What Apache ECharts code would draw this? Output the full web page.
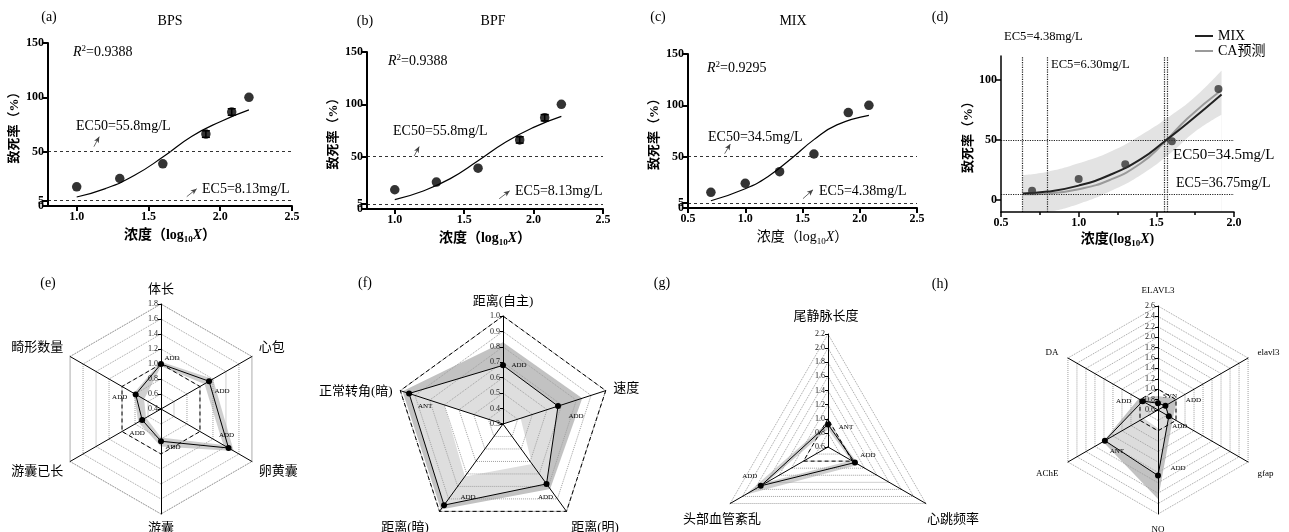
<!DOCTYPE html>
<html>
<head>
<meta charset="utf-8">
<script src="https://cdn.jsdelivr.net/npm/echarts@6.0.0/dist/echarts.min.js"></script>
<style>
html,body{margin:0;padding:0;background:#fff;}
#main{width:1289px;height:532px;}
</style>
</head>
<body>
<div id="main"></div>
<script>
// ================= DATA =================
// (a) BPS
const a_x = [1.0, 1.3, 1.6, 1.9, 2.08, 2.2];
const a_y = [17.6, 25.3, 38.8, 66.2, 86.5, 100];
const a_err = [0, 0, 0, 3, 3, 0];
const a_fitX = [1.0, 1.2, 1.4, 1.6, 1.8, 2.0, 2.2];
const a_fitY = [8.3, 16, 28, 45, 64, 77.6, 88.4];
const a_xTicks = [1.0, 1.5, 2.0, 2.5];
const a_yTicks = [0, 5, 50, 100, 150];
const a_ecLevels = [50, 5];
// (b) BPF
const b_x = [1.0, 1.3, 1.6, 1.9, 2.08, 2.2];
const b_y = [18.4, 25.7, 39, 66, 87.2, 100];
const b_err = [0, 0, 0, 3, 3, 0];
const b_fitX = [1.0, 1.2, 1.4, 1.6, 1.8, 2.0, 2.2];
const b_fitY = [8.9, 17, 29, 46, 64, 78, 88.5];
const b_xTicks = [1.0, 1.5, 2.0, 2.5];
const b_yTicks = [0, 5, 50, 100, 150];
const b_ecLevels = [50, 5];
// (c) MIX
const c_x = [0.7, 1.0, 1.3, 1.6, 1.9, 2.08];
const c_y = [15.3, 24, 35.4, 52.6, 92.9, 100];
const c_err = [0, 0, 0, 0, 0, 0];
const c_fitX = [0.7, 1.0, 1.2, 1.4, 1.6, 1.8, 2.08];
const c_fitY = [7.1, 18.8, 30.8, 48, 66.6, 81, 90.3];
const c_xTicks = [0.5, 1.0, 1.5, 2.0, 2.5];
const c_yTicks = [0, 5, 50, 100, 150];
const c_ecLevels = [50, 5];
// (d) MIX vs CA prediction
const d_x = [0.7, 1.0, 1.3, 1.6, 1.9];
const d_y = [7.8, 17.5, 29.7, 48.9, 92.5];
const d_fitX = [0.64, 0.8, 1.0, 1.2, 1.4, 1.55, 1.7, 1.92];
const d_mixY = [5.5, 7, 12, 20.8, 34, 48.6, 64, 88];
const d_caY = [4.7, 5.5, 9, 16.7, 30.6, 47.8, 68, 91.7];
const d_bandX = [0.64, 0.8, 1.0, 1.2, 1.4, 1.6, 1.75, 1.92];
const d_bandUpper = [20.8, 23.6, 30.6, 40, 54, 71, 86, 108];
const d_bandLower = [-12, -10, -3.3, 7, 20.8, 40, 57, 71];
const d_ecX = [0.64, 0.80, 1.55, 1.57];
const d_ecY = [50, 5];
const d_xTicks = [0.5, 1.0, 1.5, 2.0];
const d_yTicks = [0, 50, 100];
const d_legend = ['MIX', 'CA预测'];

// (e)
const e_names = ['体长', '心包', '卵黄囊', '游囊', '游囊已长', '畸形数量'];
const e_vals  = [1.0, 1.14, 1.44, 0.83, 0.69, 0.79];
const e_upper = [1.03, 1.2, 1.52, 0.9, 0.75, 0.82];
const e_lower = [0.97, 1.07, 1.36, 0.78, 0.63, 0.66];
const e_ref   = [1, 1, 1, 1, 1, 1];
const e_tags  = ['ADD', 'ADD', 'ADD', 'ADD', 'ADD', 'ADD'];
const e_range = [0.4, 1.8];
// (f)
const f_names = ['距离(自主)', '速度', '距离(明)', '距离(暗)', '正常转角(暗)'];
const f_vals  = [0.68, 0.675, 0.78, 0.95, 0.94];
const f_upper = [0.83, 0.84, 0.82, 0.985, 0.985];
const f_lower = [0.3, 0.42, 0.62, 0.72, 0.7];
const f_ref   = [1, 1, 1, 1, 1];
const f_tags  = ['ADD', 'ADD', 'ADD', 'ADD', 'ANT'];
const f_range = [0.3, 1.0];
// (g)
const g_names = ['尾静脉长度', '心跳频率', '头部血管紊乱'];
const g_vals  = [0.92, 1.04, 1.7];
const g_upper = [0.95, 1.1, 1.95];
const g_lower = [0.85, 0.98, 1.6];
const g_ref   = [1, 1, 1];
const g_tags  = ['ANT', 'ADD', 'ADD'];
const g_range = [0.6, 2.2];
// (h)
const h_names = ['ELAVL3', 'elavl3', 'gfap', 'NO', 'AChE', 'DA'];
const h_vals  = [0.73, 0.765, 0.84, 1.86, 1.78, 0.94];
const h_upper = [0.87, 1.02, 0.93, 2.31, 1.82, 1.03];
const h_lower = [0.62, 0.6, 0.6, 0.95, 0.92, 0.6];
const h_ref   = [1, 1, 1, 1, 1, 1];
const h_tags  = ['SYN', 'ADD', 'ADD', 'ADD', 'ANT', 'ADD'];
const h_range = [0.6, 2.6];

// ================= BUILD =================
const SERIF = "'Liberation Serif','Noto Sans CJK SC',serif";
const grid = [], xAxis = [], yAxis = [], series = [], radar = [], graphic = [];
const extraY = [];
const pair = (xs, ys) => xs.map((x, i) => [x, ys[i]]);
const fmt1 = v => Number(v).toFixed(1);

function xNameRich(bold) {
  const w = bold ? 'bold' : 'normal';
  return {
    n: {fontFamily: SERIF, fontSize: 14, fontWeight: w, color: '#000', lineHeight: 18},
    b: {fontFamily: SERIF, fontSize: 14, fontWeight: w, color: '#000', lineHeight: 18},
    s: {fontFamily: SERIF, fontSize: 9, fontWeight: w, color: '#000', lineHeight: 10, verticalAlign: 'bottom'},
    i: {fontFamily: SERIF, fontSize: 14, fontStyle: 'italic', fontWeight: w, color: '#000', lineHeight: 18}
  };
}
const yLabelStyle = {color: '#000', fontFamily: SERIF, fontWeight: 'bold', fontSize: 12, margin: 4,
  formatter: v => String(v), showMinLabel: true, showMaxLabel: true, hideOverlap: false};

function topPanel(i, P) {
  grid.push(P.grid);
  xAxis.push({
    type: 'value', gridIndex: i, min: P.xRange[0], max: P.xRange[1], interval: P.xInterval, z: 10,
    axisLine: {show: true, onZero: false, lineStyle: {color: '#000', width: P.axisW}},
    axisTick: {show: true, length: 5, lineStyle: {color: '#000', width: P.axisW}, customValues: P.xTicks},
    minorTick: P.minorX ? {show: true, splitNumber: 2, length: 3, lineStyle: {color: '#000', width: 1.5}} : {show: false},
    axisLabel: {color: '#000', fontFamily: SERIF, fontWeight: 'bold', fontSize: 12, margin: 5, formatter: fmt1,
      customValues: P.xTicks, showMinLabel: true, showMaxLabel: true, hideOverlap: false},
    splitLine: {show: false},
    name: P.xName, nameLocation: 'middle', nameGap: P.xNameGap,
    nameTextStyle: {fontFamily: SERIF, fontSize: 14, fontWeight: P.boldName ? 'bold' : 'normal', color: '#000', rich: xNameRich(P.boldName)}
  });
  // labels that sit within a few px of each other (0 and 5) are split over two axes so both stay visible
  const lbl = P.yTicks.filter(v => v !== 0);
  const needSplit = lbl.length !== P.yTicks.length && lbl.indexOf(5) >= 0;
  yAxis.push({
    type: 'value', gridIndex: i, min: P.yRange[0], max: P.yRange[1], z: 10,
    axisLine: {show: true, onZero: false, lineStyle: {color: '#000', width: P.axisW}},
    axisTick: {show: true, length: 5, lineStyle: {color: '#000', width: P.axisW}, customValues: P.yTicks},
    axisLabel: Object.assign({}, yLabelStyle, {customValues: needSplit ? lbl : P.yTicks}),
    splitLine: {show: false},
    name: '致死率（%）', nameLocation: 'middle', nameGap: P.yNameGap, nameRotate: 90,
    nameTextStyle: {fontFamily: SERIF, fontSize: 13, fontWeight: 'bold', color: '#000'}
  });
  if (needSplit) {
    extraY.push({
      type: 'value', gridIndex: i, min: P.yRange[0], max: P.yRange[1], position: 'left', z: 9,
      axisLine: {show: false, onZero: false}, axisTick: {show: false}, splitLine: {show: false},
      axisLabel: Object.assign({}, yLabelStyle, {customValues: [0]})
    });
  }
}

function curvePanel(i, P) {
  const mk = P.ecLevels.map(v => ({yAxis: v}));
  P.arrows.forEach(a => mk.push([
    {coord: [a[0], a[1]], symbol: 'none', lineStyle: {type: 'solid', width: 0.8, color: '#444'}},
    {coord: [a[2], a[3]], symbol: 'arrow', symbolSize: [4, 6]}
  ]));
  series.push({
    type: 'line', xAxisIndex: i, yAxisIndex: i, data: pair(P.fx, P.fy), smooth: true, symbol: 'none',
    lineStyle: {color: '#000', width: 1.2}, z: 3, silent: true,
    markLine: {silent: true, symbol: ['none', 'none'], label: {show: false},
      lineStyle: {color: '#333', width: 1, type: [3, 3]}, data: mk}
  });
  series.push({
    type: 'scatter', xAxisIndex: i, yAxisIndex: i, data: pair(P.x, P.y), symbolSize: 9.5,
    itemStyle: {color: '#000'}, z: 4, silent: true
  });
  series.push({
    type: 'custom', xAxisIndex: i, yAxisIndex: i, z: 5, silent: true,
    data: P.x.map((x, k) => [x, P.y[k], P.err[k]]),
    encode: {x: 0, y: 1},
    renderItem: (params, api) => {
      const x = api.value(0), y = api.value(1), e = api.value(2);
      if (!e) return null;
      const t = api.coord([x, y + e]), b = api.coord([x, y - e]);
      const st = {stroke: '#000', lineWidth: 1.5};
      return {type: 'group', children: [
        {type: 'line', shape: {x1: t[0], y1: t[1], x2: b[0], y2: b[1]}, style: st},
        {type: 'line', shape: {x1: t[0] - 4, y1: t[1], x2: t[0] + 4, y2: t[1]}, style: st},
        {type: 'line', shape: {x1: b[0] - 4, y1: b[1], x2: b[0] + 4, y2: b[1]}, style: st}
      ]};
    }
  });
}

// Panels a-c
const logName = '{n|浓度（}{b|log}{s|10}{i|X}{n|）}';
topPanel(0, {grid: {left: 48, top: 43, width: 244, height: 163}, xRange: [0.8, 2.5], xTicks: a_xTicks,
  yRange: [0, 150], yTicks: a_yTicks, axisW: 2, xName: logName, boldName: true, xNameGap: 20, yNameGap: 27});
curvePanel(0, {x: a_x, y: a_y, err: a_err, fx: a_fitX, fy: a_fitY, ecLevels: a_ecLevels,
  arrows: [[1.12, 54.6, 1.157, 63.8], [1.767, 8.6, 1.836, 15.9]]});

topPanel(1, {grid: {left: 367, top: 52, width: 236, height: 157}, xRange: [0.8, 2.5], xTicks: b_xTicks,
  yRange: [0, 150], yTicks: b_yTicks, axisW: 2, xName: logName, boldName: true, xNameGap: 20, yNameGap: 27});
curvePanel(1, {x: b_x, y: b_y, err: b_err, fx: b_fitX, fy: b_fitY, ecLevels: b_ecLevels,
  arrows: [[1.14, 50.7, 1.176, 59.6], [1.752, 9.8, 1.828, 17.4]]});

topPanel(2, {grid: {left: 688, top: 54, width: 229, height: 154}, xRange: [0.5, 2.5], xTicks: c_xTicks,
  yRange: [0, 150], yTicks: c_yTicks, axisW: 2, xName: logName, boldName: false, xNameGap: 20, yNameGap: 27});
curvePanel(2, {x: c_x, y: c_y, err: c_err, fx: c_fitX, fy: c_fitY, ecLevels: c_ecLevels,
  arrows: [[0.82, 52.9, 0.87, 62.3], [1.504, 9.1, 1.592, 17.8]]});

// Panel d
topPanel(3, {grid: {left: 1001, top: 56, width: 233, height: 156}, xRange: [0.5, 2.0], xInterval: 0.5, minorX: true,
  yRange: [-10, 120], yTicks: d_yTicks, axisW: 1.5, xName: '{n|浓度(}{b|log}{s|10}{i|X}{n|)}', boldName: true, xNameGap: 18, yNameGap: 24});
// confidence band: upper area grey, lower area white on top of it
series.push({
  type: 'line', xAxisIndex: 3, yAxisIndex: 3, symbol: 'none', silent: true, z: 1, smooth: true,
  lineStyle: {opacity: 0}, areaStyle: {color: '#e3e3e3', opacity: 1, origin: 'start'},
  data: pair(d_bandX, d_bandUpper)
});
series.push({
  type: 'line', xAxisIndex: 3, yAxisIndex: 3, symbol: 'none', silent: true, z: 1.1, smooth: true,
  lineStyle: {opacity: 0}, areaStyle: {color: '#ffffff', opacity: 1, origin: 'start'},
  data: pair(d_bandX, d_bandLower)
});
series.push({
  type: 'line', xAxisIndex: 3, yAxisIndex: 3, symbol: 'none', silent: true, z: 2,
  lineStyle: {opacity: 0}, data: [],
  markLine: {silent: true, symbol: ['none', 'none'], label: {show: false},
    lineStyle: {color: '#222', width: 1.2, type: 'dotted'},
    data: d_ecX.map(v => ({xAxis: v})).concat(d_ecY.map(v => ({yAxis: v})))}
});
series.push({
  name: d_legend[1], type: 'line', xAxisIndex: 3, yAxisIndex: 3, data: pair(d_fitX, d_caY), smooth: true,
  symbol: 'none', showSymbol: false, lineStyle: {color: '#9a9a9a', width: 2}, itemStyle: {color: '#9a9a9a'}, z: 3, silent: true
});
series.push({
  name: d_legend[0], type: 'line', xAxisIndex: 3, yAxisIndex: 3, data: pair(d_fitX, d_mixY), smooth: true,
  symbol: 'none', showSymbol: false, lineStyle: {color: '#222', width: 2}, itemStyle: {color: '#222'}, z: 4, silent: true
});
series.push({
  type: 'scatter', xAxisIndex: 3, yAxisIndex: 3, data: pair(d_x, d_y), symbolSize: 8,
  itemStyle: {color: '#333'}, z: 5, silent: true
});
extraY.forEach(a => yAxis.push(a));

// Radar panels
function radarPanel(k, P) {
  const ccw = arr => [arr[0]].concat(arr.slice(1).reverse());
  const nameRich = {};
  const adj = P.nameAdj || {};
  Object.keys(adj).forEach((nm, j) => {
    nameRich['p' + j] = {fontSize: P.nameSize, fontFamily: SERIF, color: '#000', padding: adj[nm]};
  });
  radar.push({
    center: P.center, radius: P.radius, startAngle: 90, shape: 'polygon', splitNumber: P.split, z: 3,
    indicator: ccw(P.names).map((nm, j) => {
      const o = {name: nm, min: P.range[0], max: P.range[1]};
      if (j === 0) { o.axisLabel = {show: true}; o.axisTick = {show: true}; }
      return o;
    }),
    axisName: {show: P.showNames !== false, color: '#000', fontSize: P.nameSize, fontFamily: SERIF, rich: nameRich,
      formatter: (v) => { const j = Object.keys(adj).indexOf(v); return j < 0 ? v : '{p' + j + '|' + v + '}'; }},
    nameGap: P.nameGap,
    splitLine: {show: true, lineStyle: {color: '#a0a0a0', type: 'dotted', width: 1}},
    splitArea: {show: false},
    axisLine: {show: true, lineStyle: {color: '#000', width: 1}},
    axisTick: {show: false, length: 3, lineStyle: {color: '#000', width: 1}},
    axisLabel: {show: false, fontSize: 8, fontFamily: SERIF, color: '#222', margin: 3, formatter: fmt1}
  });
  P.fills.forEach((f, m) => series.push({
    type: 'radar', radarIndex: k, z: 1 + m * 0.1, silent: true, symbol: 'none',
    lineStyle: {width: 0, opacity: 0}, areaStyle: {color: f[0], opacity: 1},
    data: [{value: ccw(f[1])}]
  }));
  series.push({
    type: 'radar', radarIndex: k, z: 4, silent: true, symbol: 'none',
    lineStyle: {color: '#000', width: 1, type: [4, 3]}, data: [{value: ccw(P.ref)}]
  });
  const rich = {};
  P.off.forEach((o, j) => {
    const dx = o[0], dy = o[1];
    rich['d' + j] = {fontSize: 7, fontFamily: SERIF, color: '#000',
      padding: [Math.max(0, 2 * dy), Math.max(0, -2 * dx), Math.max(0, -2 * dy), Math.max(0, 2 * dx)]};
  });
  series.push({
    type: 'radar', radarIndex: k, z: 5, silent: true, symbol: 'circle', symbolSize: 6,
    itemStyle: {color: '#000'}, lineStyle: {color: '#000', width: 1},
    label: {show: true, position: 'inside', color: '#000', textBorderWidth: 0,
      formatter: p => { const j = P.vals.indexOf(p.value); return j < 0 ? '' : '{d' + j + '|' + P.tags[j] + '}'; },
      rich: rich},
    data: [{value: ccw(P.vals)}]
  });
}

radarPanel(0, {center: [161, 409], radius: 105, split: 7, range: e_range, names: e_names, vals: e_vals, ref: e_ref, tags: e_tags,
  nameSize: 13, nameGap: 8,
  nameAdj: {'心包': [0, 0, 10, 0], '畸形数量': [0, 0, 10, 0], '卵黄囊': [12, 0, 0, 0], '游囊已长': [12, 0, 0, 0]},
  fills: [['#cfcfcf', e_upper], ['#ffffff', e_lower]],
  off: [[11, -6], [13, 10], [-2, -13], [12, 6], [-5, 13], [-16, 3]]});
radarPanel(1, {center: [503, 424], radius: 108, split: 7, range: f_range, names: f_names, vals: f_vals, ref: f_ref, tags: f_tags,
  nameSize: 13, nameGap: 8,
  nameAdj: {'距离(明)': [20, 0, 0, 0], '距离(暗)': [20, 6, 0, 0], '正常转角(暗)': [6, 0, 0, 0]},
  fills: [['#c2c2c2', f_upper], ['#dedede', f_vals], ['#ffffff', f_lower]],
  off: [[16, 0], [18, 10], [-1, 13], [24, -8], [16, 13]]});
radarPanel(2, {center: [828, 447], radius: 113, split: 8, range: g_range, names: g_names, vals: g_vals, ref: g_ref, tags: g_tags,
  nameSize: 13, nameGap: 10, showNames: false,
  fills: [['#cfcfcf', g_upper], ['#ffffff', g_lower]],
  off: [[18, 3], [13, -7], [-11, -10]]});
radarPanel(3, {center: [1158, 410], radius: 104, split: 10, range: h_range, names: h_names, vals: h_vals, ref: h_ref, tags: h_tags,
  nameSize: 9, nameGap: 11,
  nameAdj: {'AChE': [12, 0, 0, 0], 'gfap': [12, 0, 0, 0]},
  fills: [['#c2c2c2', h_upper], ['#dcdcdc', h_vals], ['#ffffff', h_lower]],
  off: [[12, -7], [28, -6], [11, 10], [20, -7], [12, 10], [-19, 0]]});

// Text annotations
function txt(t, x, y, size, align, extra) {
  graphic.push({type: 'text', x: x, y: y, silent: true, z: 10,
    style: Object.assign({text: t, fontSize: size, fontFamily: SERIF, fill: '#000', align: align || 'center', verticalAlign: 'middle'}, extra || {})});
}
const r2rich = {
  i: {fontStyle: 'italic', fontSize: 14, fontFamily: SERIF, fill: '#000', lineHeight: 16},
  s: {fontSize: 9, fontFamily: SERIF, fill: '#000', lineHeight: 9, verticalAlign: 'top'},
  n: {fontSize: 14, fontFamily: SERIF, fill: '#000', lineHeight: 16}
};
[['(a)', 49, 17], ['BPS', 170, 21], ['(b)', 365, 21], ['BPF', 493, 21], ['(c)', 658, 17], ['MIX', 793, 21], ['(d)', 940, 17],
 ['(e)', 48, 283], ['(f)', 365, 283], ['(g)', 662, 283], ['(h)', 940, 284]].forEach(t => txt(t[0], t[1], t[2], 14));
// (g) axis names
txt(g_names[0], 826, 317, 13);
txt(g_names[2], 722, 520, 13);
txt(g_names[1], 953, 520, 13);
txt('{i|R}{s|2}{n|=0.9388}', 73, 52, 14, 'left', {rich: r2rich});
txt('{i|R}{s|2}{n|=0.9388}', 388, 61, 14, 'left', {rich: r2rich});
txt('{i|R}{s|2}{n|=0.9295}', 707, 68, 14, 'left', {rich: r2rich});
txt('EC50=55.8mg/L', 76, 126, 14, 'left');
txt('EC5=8.13mg/L', 202, 189, 14, 'left');
txt('EC50=55.8mg/L', 393, 131, 14, 'left');
txt('EC5=8.13mg/L', 515, 191, 14, 'left');
txt('EC50=34.5mg/L', 708, 137, 14, 'left');
txt('EC5=4.38mg/L', 819, 191, 14, 'left');
txt('EC5=4.38mg/L', 1004, 37, 12.6, 'left');
txt('EC5=6.30mg/L', 1051, 65, 12.6, 'left');
txt('EC50=34.5mg/L', 1173, 155, 15, 'left');
txt('EC5=36.75mg/L', 1176, 183, 14, 'left');

const option = {
  animation: false,
  backgroundColor: '#ffffff',
  textStyle: {fontFamily: SERIF},
  legend: {data: d_legend, left: 1190, top: 24, orient: 'vertical', icon: 'rect', itemWidth: 18, itemHeight: 2, itemGap: 1,
    textStyle: {fontFamily: SERIF, fontSize: 14, color: '#000', lineHeight: 14}},
  grid: grid, xAxis: xAxis, yAxis: yAxis, radar: radar, series: series, graphic: graphic
};
const chart = echarts.init(document.getElementById('main'), null, {renderer: 'canvas', width: 1289, height: 532});
chart.setOption(option);
</script>
</body>
</html>
